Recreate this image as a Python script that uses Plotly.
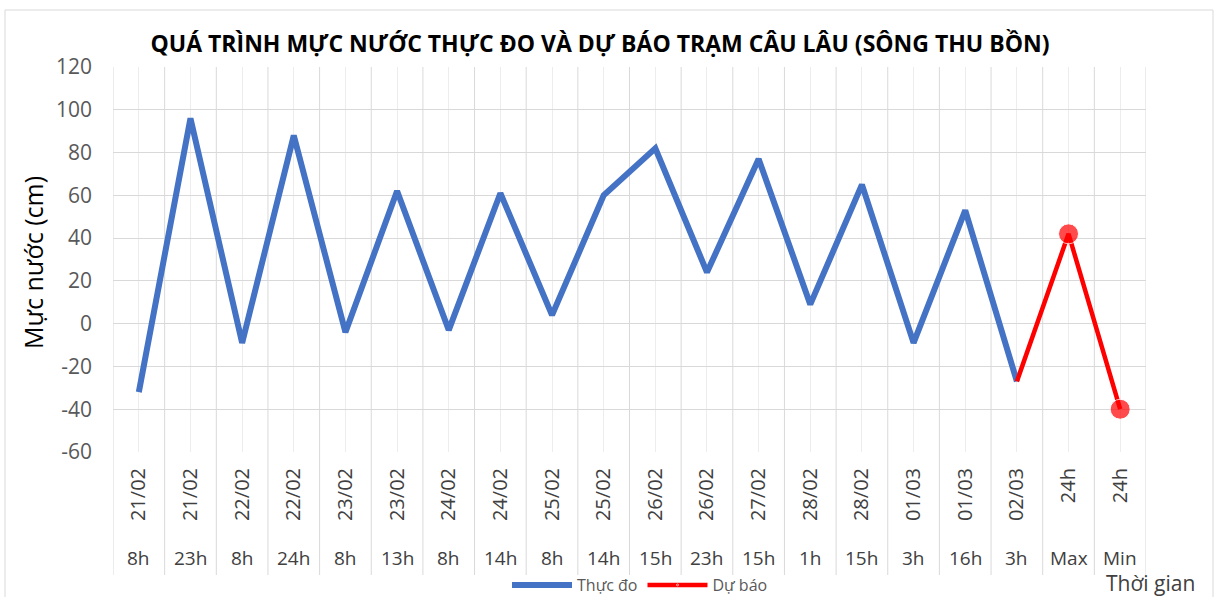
import plotly.graph_objects as go

dates = ["21/02", "21/02", "22/02", "22/02", "23/02", "23/02", "24/02", "24/02", "25/02", "25/02",
         "26/02", "26/02", "27/02", "28/02", "28/02", "01/03", "01/03", "02/03", "24h", "24h"]
hours = ["8h", "23h", "8h", "24h", "8h", "13h", "8h", "14h", "8h", "14h",
         "15h", "23h", "15h", "1h", "15h", "3h", "16h", "3h", "Max", "Min"]
observed = [-32, 96, -9, 88, -4, 62, -3, 61, 4, 60, 82, 24, 77, 9, 65, -9, 53, -27, None, None]
forecast = [None] * 17 + [-27, 42, -40]
forecast_marker = [0] * 17 + [0, 20, 20]
y_ticks = [-60, -40, -20, 0, 20, 40, 60, 80, 100, 120]
y_ticktext = [str(v) for v in y_ticks]

FONT = "Open Sans"
W, H = 1219, 597
L, R, T, B = 113, 1146, 67, 452
pw, ph = R - L, B - T

def px_x(px):
    return (px - L) / pw

def px_y(py):
    return (B - py) / ph

idx = list(range(len(dates)))

fig = go.Figure()
fig.add_trace(go.Scatter(
    x=idx, y=observed, mode="lines", name="Thực đo",
    line=dict(color="#4472C4", width=6), connectgaps=False))
fig.add_trace(go.Scatter(
    x=idx, y=forecast, mode="lines+markers", name="Dự báo",
    line=dict(color="#FF0000", width=4.5),
    marker=dict(color="#FF0000", size=forecast_marker)))

shapes = []
for i in range(len(dates) + 1):
    shapes.append(dict(type="line", xref="x", yref="paper", x0=i - 0.5, x1=i - 0.5,
                       y0=1, y1=px_y(575), line=dict(color="#d9d9d9", width=1), layer="below"))
# outer chart border
shapes.append(dict(type="rect", xref="paper", yref="paper", x0=px_x(5), x1=px_x(1213),
                   y0=px_y(640), y1=px_y(10), line=dict(color="#d9d9d9", width=1)))

annotations = []
for i, h in enumerate(hours):
    annotations.append(dict(x=i, y=px_y(558), xref="x", yref="paper", text=h, showarrow=False,
                            font=dict(family=FONT, size=19, color="#404040"),
                            xanchor="center", yanchor="middle"))
annotations.append(dict(x=px_x(33), y=px_y(263), xref="paper", yref="paper", text="Mực nước (cm)",
                        textangle=-90, showarrow=False,
                        font=dict(family=FONT, size=25, color="#000000"),
                        xanchor="center", yanchor="middle"))
annotations.append(dict(x=px_x(1150), y=px_y(583), xref="paper", yref="paper", text="Thời gian",
                        showarrow=False, font=dict(family=FONT, size=21, color="#404040"),
                        xanchor="center", yanchor="middle"))

fig.update_layout(
    width=W, height=H,
    margin=dict(l=L, r=W - R, t=T, b=H - B, pad=0),
    paper_bgcolor="white", plot_bgcolor="white",
    title=dict(text="<b>QUÁ TRÌNH MỰC NƯỚC THỰC ĐO VÀ DỰ BÁO TRẠM CÂU LÂU (SÔNG THU BỒN)</b>",
               x=600 / W, xanchor="center", y=1 - 44 / H, yanchor="middle",
               font=dict(family=FONT, size=23, color="#000000")),
    xaxis=dict(range=[-0.5, len(dates) - 0.5], tickmode="array", tickvals=idx, ticktext=dates,
               tickangle=-90, tickfont=dict(family=FONT, size=20, color="#404040"),
               showgrid=True, gridcolor="#ededed", gridwidth=1, zeroline=False,
               ticks="", ticklabelstandoff=11, showline=False, fixedrange=True),
    yaxis=dict(range=[-60, 120], tickmode="array", tickvals=y_ticks, ticktext=y_ticktext,
               showgrid=True, gridcolor="#d9d9d9",
               gridwidth=1, zeroline=False, tickfont=dict(family=FONT, size=21, color="#595959"),
               ticks="", ticklabelstandoff=20, showline=False),
    showlegend=True,
    legend=dict(orientation="h", xref="container", yref="container", x=640 / W, y=1 - 585 / H,
                xanchor="center", yanchor="middle",
                font=dict(family=FONT, size=16, color="#595959"), bgcolor="rgba(0,0,0,0)",
                itemwidth=60, tracegroupgap=0),
    shapes=shapes, annotations=annotations,
)

fig.write_html("out.html", config={"displayModeBar": False},
               post_script="document.body.style.margin='0';document.body.style.overflow='hidden';")
